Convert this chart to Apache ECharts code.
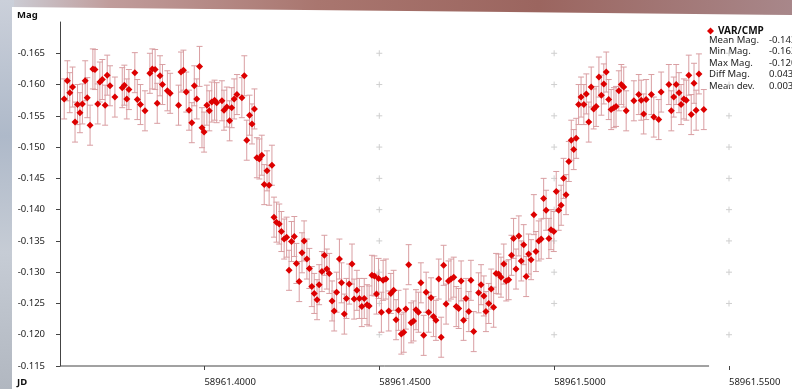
<!DOCTYPE html>
<html>
<head>
<meta charset="utf-8">
<script src="https://cdn.jsdelivr.net/npm/echarts@6/dist/echarts.min.js"></script>
<style>
html, body { margin: 0; padding: 0; width: 792px; height: 389px; overflow: hidden; }
body { position: relative; background: linear-gradient(90deg, #cdd2db 0%, #c09c9b 14%, #a9766f 40%, #9b655f 68%, #a8878a 100%); }
#bg-left { position: absolute; left: 0; top: 0; width: 14px; height: 389px; background: linear-gradient(180deg, #cbd0da 0%, #aeb9c9 35%, #c6ccd5 65%, #b1b7c0 100%); }
#panel { position: absolute; left: 12px; top: 7px; right: 0; bottom: 0; background: #fff; clip-path: polygon(0 0, 100% 8px, 100% 100%, 0 100%); }
#chart { position: absolute; left: 0; top: 0; width: 792px; height: 389px; }
</style>
</head>
<body>
<div id="bg-left"></div>
<div id="panel"></div>
<div id="chart"></div>
<script>
// 光变曲线数据 (JD / Mag)
var jd = [
  58961.3599, 58961.3608, 58961.3615, 58961.3623, 58961.3630, 58961.3637, 58961.3644, 58961.3651, 58961.3659, 58961.3665,
  58961.3673, 58961.3681, 58961.3687, 58961.3695, 58961.3701, 58961.3708, 58961.3716, 58961.3722, 58961.3730, 58961.3744,
  58961.3765, 58961.3771, 58961.3778, 58961.3784, 58961.3801, 58961.3808, 58961.3817, 58961.3830, 58961.3844, 58961.3851,
  58961.3859, 58961.3865, 58961.3873, 58961.3880, 58961.3894, 58961.3902, 58961.3926, 58961.3933, 58961.3940, 58961.3948,
  58961.3956, 58961.3964, 58961.3971, 58961.3978, 58961.3986, 58961.3993, 58961.3999, 58961.4007, 58961.4014, 58961.4021,
  58961.4029, 58961.4035, 58961.4050, 58961.4056, 58961.4064, 58961.4072, 58961.4078, 58961.4085, 58961.4093, 58961.4107,
  58961.4114, 58961.4121, 58961.4129, 58961.4136, 58961.4143, 58961.4150, 58961.4157, 58961.4164, 58961.4171, 58961.4179,
  58961.4185, 58961.4193, 58961.4199, 58961.4206, 58961.4214, 58961.4220, 58961.4228, 58961.4235, 58961.4242, 58961.4249,
  58961.4257, 58961.4263, 58961.4271, 58961.4279, 58961.4285, 58961.4293, 58961.4300, 58961.4307, 58961.4314, 58961.4322,
  58961.4328, 58961.4336, 58961.4343, 58961.4350, 58961.4357, 58961.4365, 58961.4371, 58961.4378, 58961.4386, 58961.4392,
  58961.4400, 58961.4406, 58961.4414, 58961.4422, 58961.4428, 58961.4436, 58961.4443, 58961.4450, 58961.4457, 58961.4465,
  58961.4471, 58961.4479, 58961.4486, 58961.4492, 58961.4498, 58961.4506, 58961.4511, 58961.4519, 58961.4527, 58961.4533,
  58961.4541, 58961.4548, 58961.4555, 58961.4563, 58961.4570, 58961.4576, 58961.4584, 58961.4591, 58961.4598, 58961.4605,
  58961.4612, 58961.4619, 58961.4627, 58961.4634, 58961.4641, 58961.4648, 58961.4655, 58961.4662, 58961.4670, 58961.4677,
  58961.4684, 58961.4691, 58961.4698, 58961.4705, 58961.4713, 58961.4720, 58961.4727, 58961.4734, 58961.4741, 58961.4748,
  58961.4756, 58961.4762, 58961.4770, 58961.4784, 58961.4791, 58961.4799, 58961.4805, 58961.4813, 58961.4820, 58961.4827,
  58961.4834, 58961.4841, 58961.4848, 58961.4856, 58961.4863, 58961.4870, 58961.4878, 58961.4884, 58961.4891, 58961.4899,
  58961.4906, 58961.4913, 58961.4920, 58961.4927, 58961.4934, 58961.4942, 58961.4948, 58961.4956, 58961.4963, 58961.4970,
  58961.4977, 58961.4985, 58961.4991, 58961.4999, 58961.5006, 58961.5013, 58961.5020, 58961.5027, 58961.5034, 58961.5042,
  58961.5049, 58961.5056, 58961.5063, 58961.5070, 58961.5077, 58961.5085, 58961.5092, 58961.5099, 58961.5106, 58961.5113,
  58961.5120, 58961.5128, 58961.5135, 58961.5142, 58961.5149, 58961.5156, 58961.5163, 58961.5171, 58961.5177, 58961.5185,
  58961.5192, 58961.5199, 58961.5206, 58961.5228, 58961.5242, 58961.5249, 58961.5256, 58961.5263, 58961.5278, 58961.5285,
  58961.5299, 58961.5306, 58961.5328, 58961.5335, 58961.5342, 58961.5349, 58961.5357, 58961.5363, 58961.5371, 58961.5378,
  58961.5385, 58961.5392, 58961.5400, 58961.5406, 58961.5414, 58961.5428
];
var mag = [
  -0.1577, -0.1606, -0.1587, -0.1596, -0.1540, -0.1568, -0.1555, -0.1569, -0.1606, -0.1579,
  -0.1535, -0.1625, -0.1624, -0.1569, -0.1604, -0.1608, -0.1567, -0.1615, -0.1598, -0.1580,
  -0.1595, -0.1599, -0.1577, -0.1592, -0.1619, -0.1576, -0.1568, -0.1558, -0.1618, -0.1625,
  -0.1624, -0.1570, -0.1614, -0.1600, -0.1590, -0.1586, -0.1567, -0.1620, -0.1623, -0.1588,
  -0.1559, -0.1539, -0.1598, -0.1577, -0.1629, -0.1531, -0.1524, -0.1567, -0.1558, -0.1572,
  -0.1575, -0.1571, -0.1574, -0.1559, -0.1564, -0.1542, -0.1563, -0.1577, -0.1584, -0.1579,
  -0.1614, -0.1511, -0.1551, -0.1537, -0.1561, -0.1483, -0.1481, -0.1487, -0.1440, -0.1462,
  -0.1439, -0.1471, -0.1388, -0.1380, -0.1377, -0.1365, -0.1353, -0.1356, -0.1303, -0.1349,
  -0.1357, -0.1314, -0.1285, -0.1331, -0.1350, -0.1321, -0.1306, -0.1277, -0.1266, -0.1256,
  -0.1280, -0.1301, -0.1327, -0.1305, -0.1298, -0.1254, -0.1238, -0.1268, -0.1321, -0.1283,
  -0.1233, -0.1258, -0.1281, -0.1313, -0.1257, -0.1271, -0.1258, -0.1245, -0.1258, -0.1248,
  -0.1246, -0.1295, -0.1294, -0.1265, -0.1290, -0.1236, -0.1287, -0.1289, -0.1238, -0.1266,
  -0.1271, -0.1224, -0.1239, -0.1201, -0.1204, -0.1241, -0.1312, -0.1219, -0.1222, -0.1240,
  -0.1236, -0.1283, -0.1199, -0.1268, -0.1236, -0.1259, -0.1229, -0.1223, -0.1289, -0.1196,
  -0.1311, -0.1249, -0.1286, -0.1289, -0.1292, -0.1245, -0.1242, -0.1286, -0.1223, -0.1258,
  -0.1237, -0.1287, -0.1205, -0.1267, -0.1280, -0.1262, -0.1237, -0.1250, -0.1273, -0.1244,
  -0.1298, -0.1297, -0.1292, -0.1313, -0.1286, -0.1288, -0.1327, -0.1354, -0.1305, -0.1358,
  -0.1318, -0.1344, -0.1293, -0.1329, -0.1320, -0.1392, -0.1333, -0.1350, -0.1353, -0.1418,
  -0.1399, -0.1354, -0.1368, -0.1365, -0.1429, -0.1399, -0.1407, -0.1450, -0.1424, -0.1477,
  -0.1511, -0.1496, -0.1514, -0.1568, -0.1580, -0.1568, -0.1585, -0.1540, -0.1596, -0.1561,
  -0.1565, -0.1612, -0.1583, -0.1601, -0.1620, -0.1576, -0.1560, -0.1563, -0.1565, -0.1590,
  -0.1600, -0.1596, -0.1558, -0.1574, -0.1584, -0.1575, -0.1553, -0.1576, -0.1584, -0.1548,
  -0.1544, -0.1588, -0.1600, -0.1558, -0.1580, -0.1600, -0.1587, -0.1568, -0.1577, -0.1575,
  -0.1615, -0.1552, -0.1602, -0.1559, -0.1617, -0.1560
];
var errMag = 0.0032;

// 坐标轴刻度
var xTicks = [58961.40, 58961.45, 58961.50, 58961.55];
var yTicks = [-0.165, -0.160, -0.155, -0.150, -0.145, -0.140, -0.135, -0.130, -0.125, -0.120, -0.115];
var crossX = [58961.45, 58961.50, 58961.55];
var crossY = [-0.165, -0.160, -0.155, -0.150, -0.145, -0.140, -0.135, -0.130, -0.125, -0.120];
var xMin = 58961.3587, xMax = 58961.55, xAxisEnd = 58961.5443;
var yMin = -0.170, yMax = -0.115;

// 统计信息
var seriesName = 'VAR/CMP';
var statLabels = ['Mean Mag.', 'Min Mag.', 'Max Mag.', 'Diff Mag.', 'Mean dev.'];
var statValues = ['-0.143', '-0.163', '-0.120', '0.043', '0.003'];

var font = 'Noto Sans';
var chart = echarts.init(document.getElementById('chart'));

var points = [];
for (var i = 0; i < jd.length; i++) {
    points.push([jd[i], mag[i]]);
}
var crosses = [];
for (var a = 0; a < crossX.length; a++) {
    for (var b = 0; b < crossY.length; b++) {
        crosses.push([crossX[a], crossY[b]]);
    }
}

var statText = [];
for (var k = 0; k < statLabels.length; k++) {
    statText.push({
        type: 'text', left: 709, top: 35 + k * 11.5,
        style: { text: statLabels[k], fill: '#222', font: '9.5px "' + font + '"' }
    });
    statText.push({
        type: 'text', left: 769, top: 35 + k * 11.5,
        style: { text: statValues[k], fill: '#222', font: '9.5px "' + font + '"' }
    });
}

var option = {
    backgroundColor: 'transparent',
    animation: false,
    grid: { left: 60, right: 63, top: 22, bottom: 23 },
    legend: {
        data: [seriesName],
        left: 702, top: 21,
        icon: 'diamond',
        itemWidth: 7, itemHeight: 7,
        textStyle: { fontWeight: 'bold', fontSize: 10, color: '#111', fontFamily: font, padding: [0, 0, 0, -1] }
    },
    xAxis: {
        type: 'value', min: xMin, max: xMax,
        axisLine: { show: false },
        splitLine: { show: false },
        axisTick: { show: true, customValues: xTicks, length: 4, lineStyle: { color: '#444' } },
        axisLabel: {
            customValues: xTicks, align: 'left', margin: 11,
            color: '#222', fontSize: 9.5, fontFamily: font,
            formatter: function (v) { return v.toFixed(4); }
        }
    },
    yAxis: {
        type: 'value', inverse: true, min: yMin, max: yMax,
        axisLine: { show: true, lineStyle: { color: '#444' } },
        splitLine: { show: false },
        axisTick: { show: true, customValues: yTicks, length: 4, lineStyle: { color: '#444' } },
        axisLabel: {
            customValues: yTicks, margin: 15,
            color: '#222', fontSize: 9.5, fontFamily: font,
            formatter: function (v) { return v.toFixed(3); }
        }
    },
    series: [{
        name: 'grid-cross',
        type: 'custom',
        silent: true,
        z: 1,
        data: crosses,
        renderItem: function (params, api) {
            var p = api.coord([api.value(0), api.value(1)]);
            return {
                type: 'group',
                children: [
                    { type: 'line', shape: { x1: p[0] - 3, y1: p[1], x2: p[0] + 3, y2: p[1] }, style: { stroke: '#cfcfcf', lineWidth: 1 } },
                    { type: 'line', shape: { x1: p[0], y1: p[1] - 3, x2: p[0], y2: p[1] + 3 }, style: { stroke: '#cfcfcf', lineWidth: 1 } }
                ]
            };
        }
    }, {
        name: 'error',
        type: 'custom',
        silent: true,
        z: 2,
        data: points,
        renderItem: function (params, api) {
            var x = api.value(0), y = api.value(1);
            var top = api.coord([x, y - errMag]);
            var bot = api.coord([x, y + errMag]);
            var st = { stroke: '#d99ea2', lineWidth: 1 };
            return {
                type: 'group',
                children: [
                    { type: 'line', shape: { x1: top[0], y1: top[1], x2: bot[0], y2: bot[1] }, style: st },
                    { type: 'line', shape: { x1: top[0] - 3, y1: top[1], x2: top[0] + 3, y2: top[1] }, style: st },
                    { type: 'line', shape: { x1: bot[0] - 3, y1: bot[1], x2: bot[0] + 3, y2: bot[1] }, style: st }
                ]
            };
        }
    }, {
        name: seriesName,
        type: 'scatter',
        z: 3,
        symbol: 'diamond',
        symbolSize: 7,
        itemStyle: { color: '#dd0000', opacity: 1 },
        data: points
    }],
    graphic: [{
        type: 'text', left: 17, top: 10,
        style: { text: 'Mag', fill: '#111', font: 'bold 9.5px "' + font + '"' }
    }, {
        type: 'text', left: 17, top: 377,
        style: { text: 'JD', fill: '#111', font: 'bold 9.5px "' + font + '"' }
    }].concat(statText)
};

chart.setOption(option);

// X轴线只画到数据范围末端
var p0 = chart.convertToPixel({ gridIndex: 0 }, [xMin, yMax]);
var p1 = chart.convertToPixel({ gridIndex: 0 }, [xAxisEnd, yMax]);
chart.setOption({
    graphic: option.graphic.concat([{
        type: 'line', z: 10,
        shape: { x1: p0[0], y1: p0[1], x2: p1[0], y2: p1[1] },
        style: { stroke: '#444', lineWidth: 1 }
    }])
});
</script>
</body>
</html>
